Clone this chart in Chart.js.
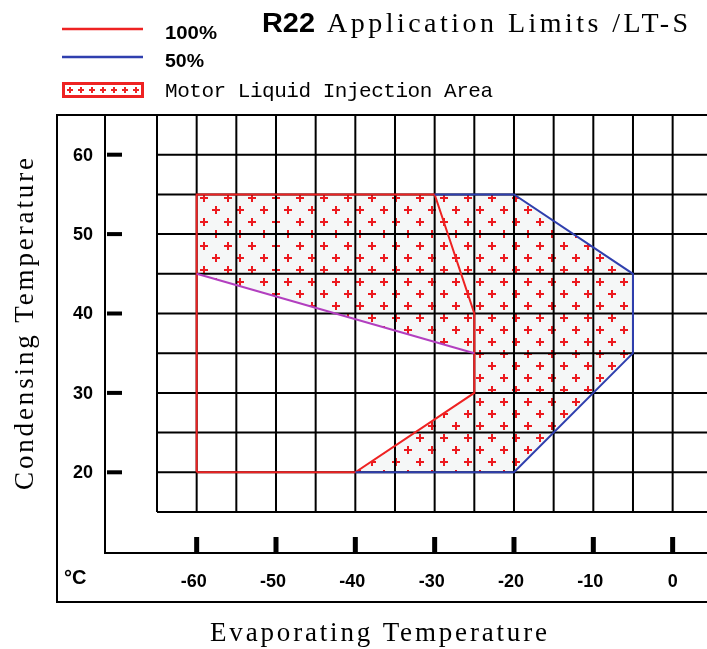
<!DOCTYPE html>
<html>
<head>
<meta charset="utf-8">
<script src="https://cdn.jsdelivr.net/npm/chart.js@4.4.1/dist/chart.umd.min.js"></script>
<style>
  html, body { margin: 0; padding: 0; background: #fff; }
  #wrap { position: relative; width: 707px; height: 649px; }
</style>
</head>
<body>
<div id="wrap"><canvas id="limitsChart" width="707" height="649"></canvas></div>
<script>
// tick labels
const evapTicks = [-60, -50, -40, -30, -20, -10, 0];
const condTicks = [20, 30, 40, 50, 60];

// 100% load envelope
const fullEvap = [-60, -60, -30, -25, -25, -40, -60];
const fullCond = [20, 55, 55, 40, 30, 20, 20];

// 50% load envelope
const halfEvap = [-30, -20, -5, -5, -20, -40];
const halfCond = [55, 55, 45, 35, 20, 20];

// shared boundary (drawn purple)
const bothEvap = [-60, -25];
const bothCond = [45, 35];

// motor liquid injection area
const injEvap = [-60, -20, -5, -5, -20, -40, -25, -25, -60, -60];
const injCond = [55, 55, 45, 35, 20, 20, 30, 35, 45, 55];

function toPoints(xs, ys) {
  return xs.map((x, i) => ({ x: x, y: ys[i] }));
}

// dotted fill pattern (red crosses on light grey)
function makePattern() {
  const c = document.createElement('canvas');
  c.width = 24; c.height = 24;
  const g = c.getContext('2d');
  g.fillStyle = '#f5f7f7';
  g.fillRect(0, 0, 24, 24);
  g.fillStyle = '#ec1a1f';
  const centers = [[12, 6], [0, 18], [24, 18]];
  centers.forEach(p => {
    g.fillRect(p[0] - 4, p[1] - 1, 8, 2);
    g.fillRect(p[0] - 1, p[1] - 4, 2, 8);
  });
  return g.createPattern(c, 'repeat');
}
const injPattern = makePattern();

function fitText(ctx, text, x, y, width) {
  ctx.letterSpacing = '0px';
  const w = ctx.measureText(text).width;
  const ls = (width - w) / (text.length - 1);
  ctx.letterSpacing = ls + 'px';
  ctx.fillText(text, x, y);
  ctx.letterSpacing = '0px';
}

function stretchText(ctx, text, x, y, width) {
  const w = ctx.measureText(text).width;
  ctx.save();
  ctx.translate(x, y);
  ctx.scale(width / w, 1);
  ctx.fillText(text, 0, 0);
  ctx.restore();
}

const gridPlugin = {
  id: 'gridUnder',
  afterDatasetDraw(chart, args) {
    if (args.index !== 3) return;
    const ctx = chart.ctx, xs = chart.scales.x, ys = chart.scales.y;
    const a = chart.chartArea;
    ctx.save();
    ctx.strokeStyle = '#000';
    ctx.lineWidth = 2;
    ctx.beginPath();
    for (let v = -65; v <= xs.max; v += 5) {
      const px = xs.getPixelForValue(v);
      ctx.moveTo(px, a.top);
      ctx.lineTo(px, a.bottom);
    }
    for (let v = 15; v < 65; v += 5) {
      const py = ys.getPixelForValue(v);
      ctx.moveTo(a.left, py);
      ctx.lineTo(a.right, py);
    }
    ctx.stroke();
    ctx.restore();
  }
};

const framePlugin = {
  id: 'frame',
  afterDraw(chart) {
    const ctx = chart.ctx, xs = chart.scales.x, ys = chart.scales.y;
    const a = chart.chartArea;
    ctx.save();
    ctx.strokeStyle = '#000';
    ctx.lineWidth = 2;
    // outer frame
    ctx.beginPath();
    ctx.moveTo(708, a.top);
    ctx.lineTo(57, a.top);
    ctx.lineTo(57, 602);
    ctx.lineTo(708, 602);
    ctx.stroke();
    // axis lines
    ctx.beginPath();
    ctx.moveTo(105, a.top);
    ctx.lineTo(105, 553);
    ctx.lineTo(708, 553);
    ctx.stroke();

    ctx.fillStyle = '#000';
    ctx.font = 'bold 18px "Liberation Sans", Arial, sans-serif';
    // y ticks
    ctx.textAlign = 'right';
    ctx.textBaseline = 'middle';
    condTicks.forEach(v => {
      const py = ys.getPixelForValue(v);
      ctx.fillRect(107, py - 2, 15, 4);
      ctx.fillText(String(v), 93, py + 1);
    });
    // x ticks
    ctx.textAlign = 'center';
    evapTicks.forEach(v => {
      const px = xs.getPixelForValue(v);
      ctx.fillRect(px - 2.5, 537, 5, 16);
      ctx.fillText(String(v), px - (v < 0 ? 3 : 0), 582);
    });
    ctx.font = 'bold 20px "Liberation Sans", Arial, sans-serif';
    ctx.textAlign = 'left';
    ctx.fillText('°C', 64, 578);

    // axis titles
    ctx.textBaseline = 'alphabetic';
    ctx.font = '27px "Liberation Serif", "Times New Roman", serif';
    fitText(ctx, 'Evaporating Temperature', 210, 641, 337);
    ctx.save();
    ctx.translate(33, 490);
    ctx.rotate(-Math.PI / 2);
    fitText(ctx, 'Condensing Temperature', 0, 0, 332);
    ctx.restore();

    // title
    ctx.font = 'bold 27px "Liberation Sans", Arial, sans-serif';
    stretchText(ctx, 'R22', 262, 32, 53);
    ctx.font = '28px "Liberation Serif", "Times New Roman", serif';
    fitText(ctx, 'Application Limits /LT-S', 327, 32, 361);

    // legend
    ctx.lineWidth = 2.5;
    ctx.strokeStyle = '#ee2222';
    ctx.beginPath(); ctx.moveTo(62, 29); ctx.lineTo(143, 29); ctx.stroke();
    ctx.strokeStyle = '#2f3fae';
    ctx.beginPath(); ctx.moveTo(62, 57); ctx.lineTo(143, 57); ctx.stroke();
    ctx.fillStyle = '#fff';
    ctx.fillRect(63, 83, 79, 13);
    ctx.strokeStyle = '#ee2222';
    ctx.lineWidth = 3;
    ctx.strokeRect(63.5, 83.5, 79, 13);
    ctx.fillStyle = '#ee2222';
    for (let i = 0; i < 7; i++) {
      const cx = 70 + i * 11;
      ctx.fillRect(cx - 3, 89, 6, 2);
      ctx.fillRect(cx - 1, 87, 2, 6);
    }
    ctx.fillStyle = '#000';
    ctx.textBaseline = 'middle';
    ctx.font = 'bold 18px "Liberation Sans", Arial, sans-serif';
    stretchText(ctx, '100%', 165, 34, 52);
    stretchText(ctx, '50%', 165, 62, 39);
    ctx.font = '21px "Liberation Mono", monospace';
    fitText(ctx, 'Motor Liquid Injection Area', 165, 91, 328);
    ctx.restore();
  }
};

const lineStyle = { showLine: true, pointRadius: 0, borderWidth: 2, tension: 0, fill: false };

new Chart(document.getElementById('limitsChart'), {
  type: 'scatter',
  data: {
    datasets: [
      Object.assign({ label: 'both', data: toPoints(bothEvap, bothCond), borderColor: '#b23fbf' }, lineStyle),
      Object.assign({ label: '50%', data: toPoints(halfEvap, halfCond), borderColor: '#2f3fae' }, lineStyle),
      Object.assign({ label: '100%', data: toPoints(fullEvap, fullCond), borderColor: '#ee2222' }, lineStyle),
      {
        label: 'Motor Liquid Injection Area',
        data: toPoints(injEvap, injCond),
        showLine: true,
        pointRadius: 0,
        borderWidth: 0,
        borderColor: 'rgba(0,0,0,0)',
        backgroundColor: injPattern,
        fill: 'shape',
        tension: 0
      }
    ]
  },
  options: {
    responsive: false,
    animation: false,
    events: [],
    layout: { padding: { left: 157, right: 0, top: 115, bottom: 137 } },
    plugins: {
      legend: { display: false },
      title: { display: false },
      tooltip: { enabled: false }
    },
    scales: {
      x: { type: 'linear', min: -65, max: -65 + 550 / 7.933, display: false },
      y: { type: 'linear', min: 15, max: 65, display: false }
    }
  },
  plugins: [gridPlugin, framePlugin]
});
</script>
</body>
</html>
